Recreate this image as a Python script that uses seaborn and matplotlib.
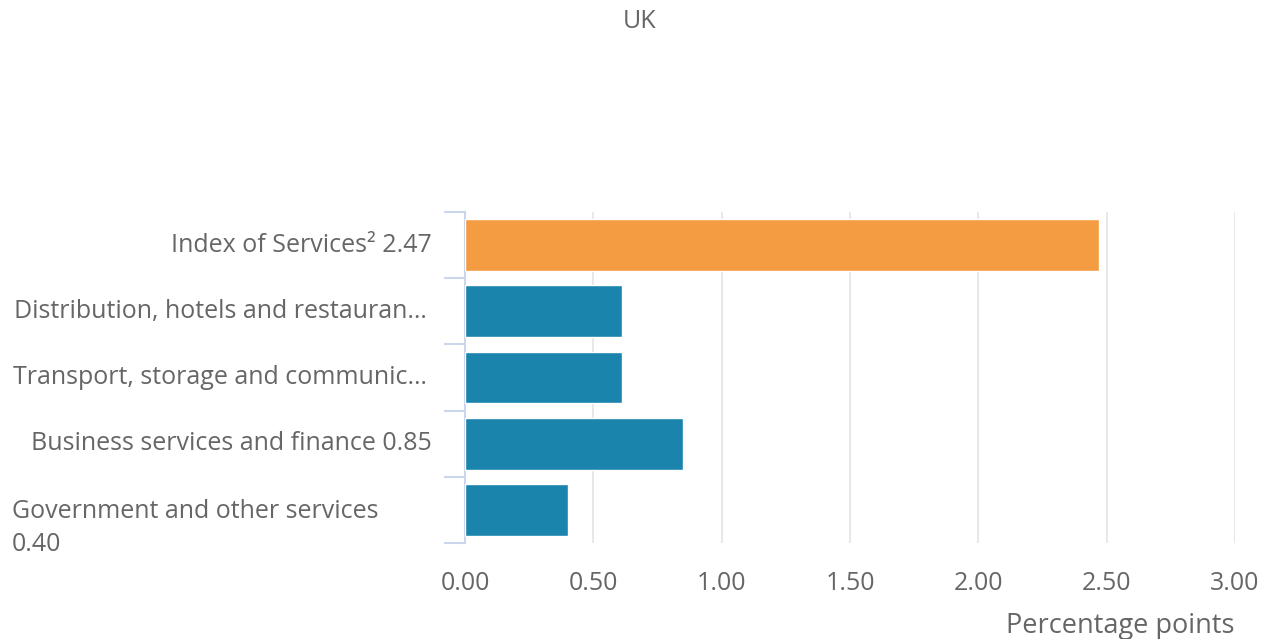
import matplotlib
matplotlib.use("Agg")
import matplotlib.pyplot as plt
import matplotlib.transforms as mtransforms
import seaborn as sns

# ===================== DATA =====================
categories = [
    "Index of Services",
    "Distribution, hotels and restaurants",
    "Transport, storage and communication",
    "Business services and finance",
    "Government and other services",
]
values = [2.47, 0.61, 0.61, 0.85, 0.40]
tick_labels = [
    "Index of Services\u00b2 2.47",
    "Distribution, hotels and restauran\u2026",
    "Transport, storage and communic\u2026",
    "Business services and finance 0.85",
    "Government and other services\n0.40",
]
bar_colors = ["#f39c42", "#1a84ac", "#1a84ac", "#1a84ac", "#1a84ac"]
x_ticks = [0, 0.5, 1.0, 1.5, 2.0, 2.5, 3.0]

# ===================== STYLE =====================
sns.set_style("white")
plt.rcParams["font.family"] = ["Open Sans", "DejaVu Sans"]
text_color = "#666666"
axis_color = "#ccd6eb"
grid_color = "#e6e6e6"
FS = 18

fig = plt.figure(figsize=(12.66, 6.39), dpi=100)
ax = fig.add_axes([465 / 1266, 1 - 543 / 639, 770 / 1266, 331 / 639])

sns.barplot(
    x=values,
    y=categories,
    hue=categories,
    palette=bar_colors,
    orient="h",
    width=0.78,
    legend=False,
    saturation=1,
    ax=ax,
    zorder=3,
)

ax.set_xlim(0, 3.0)
ax.set_ylim(len(categories) - 0.5, -0.5)
ax.set_xticks(x_ticks)
ax.set_xticklabels([f"{t:.2f}" for t in x_ticks], fontsize=FS, color=text_color)
ax.tick_params(axis="x", length=0, pad=20)
ax.grid(axis="x", color=grid_color, linewidth=1.3, zorder=0)
ax.grid(axis="y", visible=False)

# y axis: line + boundary ticks, labels drawn by hand
ax.set_yticks(range(len(categories)))
ax.set_yticklabels([])
ax.tick_params(axis="y", which="major", length=0)
ax.set_yticks([i - 0.5 for i in range(len(categories) + 1)], minor=True)
ax.tick_params(axis="y", which="minor", left=True, length=15, width=1.5,
               color=axis_color)

for side in ["top", "right", "bottom"]:
    ax.spines[side].set_visible(False)
ax.spines["left"].set_color(axis_color)
ax.spines["left"].set_linewidth(1.5)

trans = mtransforms.blended_transform_factory(fig.transFigure, ax.transData)
for i, lab in enumerate(tick_labels):
    if "\n" in lab:
        ax.text(12 / 1266, i + 0.27, lab, transform=trans, ha="left", va="center",
                fontsize=FS, color=text_color, linespacing=1.4)
    else:
        right = 427 if lab.endswith("\u2026") else 432
        ax.text(right / 1266, i, lab, transform=trans, ha="right", va="center",
                fontsize=FS, color=text_color)

ax.set_xlabel("Percentage points", loc="right", fontsize=19.5, color=text_color, labelpad=12)
ax.set_ylabel("")

fig.text(640 / 1266, 1 - 22 / 639, "UK", ha="center", va="center",
         fontsize=FS, color=text_color)

fig.savefig("out.png", dpi=100)
